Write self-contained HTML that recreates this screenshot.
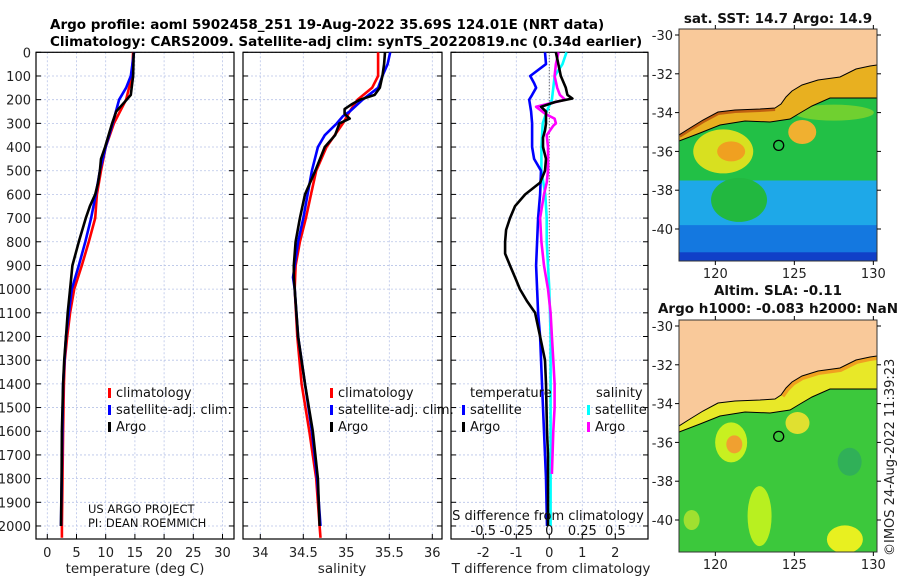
<!DOCTYPE html>
<html><head><meta charset="utf-8">
<style>
body{margin:0;background:#fff;width:900px;height:580px;overflow:hidden;font-family:"Liberation Sans","DejaVu Sans",sans-serif}
svg text{font-family:"DejaVu Sans","Liberation Sans",sans-serif}
</style></head>
<body>
<svg id="chart" width="900" height="580" viewBox="0 0 900 580" xmlns="http://www.w3.org/2000/svg">
<text x="50" y="29" font-size="13.5" font-weight="bold">Argo profile: aoml 5902458_251 19-Aug-2022 35.69S 124.01E (NRT data)</text>
<text x="50" y="46" font-size="13.5" font-weight="bold">Climatology: CARS2009. Satellite-adj clim: synTS_20220819.nc (0.34d earlier)</text>
<g id="panels"></g>
<g id="maps"></g>
<text transform="translate(894,556) rotate(-90)" font-size="13" fill="#222">©IMOS 24-Aug-2022 11:39:23</text>
</svg>
<script>
// ---------- data ----------
const depthTicks=[0,100,200,300,400,500,600,700,800,900,1000,1100,1200,1300,1400,1500,1600,1700,1800,1900,2000];
const tempTicks=[0,5,10,15,20,25,30];
const salTicks=[34,34.5,35,35.5,36];
const tdiffTicks=[-2,-1,0,1,2];
const sdiffTicks=[-0.5,-0.25,0,0.25,0.5];
const sdiffLabels=["-0.5","-0.25","0","0.25","0.5"];
const tempArgo=[[0,14.8],[100,14.7],[180,14.3],[200,13.6],[250,11.8],[300,11.1],[400,9.9],[450,9.2],[500,9.0],[550,8.7],[600,8.2],[650,7.3],[700,6.6],[800,5.4],[900,4.3],[1000,3.9],[1100,3.5],[1200,3.2],[1300,2.9],[1400,2.7],[1600,2.5],[1800,2.45],[2000,2.35]];
const tempClim=[[0,14.7],[100,14.5],[200,13.5],[300,11.4],[400,10.0],[500,9.2],[600,8.5],[700,8.2],[800,7.1],[900,5.9],[1000,4.6],[1100,3.9],[1200,3.4],[1300,3.0],[1400,2.85],[1600,2.7],[2000,2.5],[2050,2.5]];
const tempSat=[[0,14.85],[100,14.3],[150,13.5],[200,12.3],[300,11.2],[400,10.0],[500,9.0],[600,8.3],[700,7.5],[800,6.5],[900,5.4],[1000,4.2],[1200,3.2],[1400,2.7],[2000,2.35]];
const salArgo=[[0,35.45],[50,35.44],[100,35.42],[150,35.39],[180,35.33],[200,35.16],[220,35.06],[240,34.98],[260,34.98],[280,35.04],[300,34.92],[350,34.87],[400,34.75],[500,34.64],[600,34.52],[700,34.46],[800,34.41],[900,34.39],[950,34.39],[1000,34.40],[1200,34.44],[1400,34.52],[1600,34.61],[1800,34.67],[2000,34.69]];
const salClim=[[0,35.37],[100,35.37],[150,35.30],[200,35.13],[250,35.04],[300,34.96],[400,34.77],[500,34.65],[600,34.59],[700,34.53],[800,34.46],[900,34.41],[1000,34.40],[1200,34.43],[1400,34.48],[1600,34.57],[1800,34.65],[2000,34.69],[2050,34.70]];
const salSat=[[0,35.51],[50,35.48],[100,35.42],[150,35.37],[200,35.19],[250,35.04],[270,34.96],[300,34.89],[350,34.75],[400,34.67],[500,34.60],[600,34.55],[700,34.50],[800,34.44],[900,34.40],[950,34.38],[1000,34.40],[1200,34.44],[1400,34.52],[1600,34.60],[1800,34.66],[2000,34.70]];
const tdiffArgo=[[0,0.2],[100,0.35],[150,0.5],[180,0.55],[195,0.7],[210,0.18],[230,-0.25],[250,-0.1],[300,-0.1],[330,-0.13],[360,-0.19],[400,-0.19],[450,-0.1],[500,-0.13],[550,-0.28],[600,-0.73],[650,-1.04],[700,-1.19],[750,-1.31],[800,-1.34],[850,-1.34],[900,-1.19],[950,-1.04],[1000,-0.89],[1050,-0.68],[1100,-0.43],[1200,-0.28],[1300,-0.13],[1400,-0.1],[1600,-0.07],[1700,-0.04],[2000,-0.04]];
const tdiffSat=[[0,-0.13],[50,-0.1],[100,-0.58],[130,-0.46],[150,-0.4],[180,-0.52],[200,-0.61],[250,-0.55],[300,-0.52],[400,-0.52],[450,-0.46],[500,-0.25],[600,-0.28],[700,-0.34],[800,-0.37],[900,-0.4],[1000,-0.37],[1100,-0.34],[1200,-0.28],[1400,-0.22],[1600,-0.16],[1800,-0.1],[2000,-0.07]];
const sdiffArgo=[[0,0.07],[50,0.05],[100,0.04],[150,0.06],[180,0.08],[200,0.12],[230,-0.1],[260,-0.03],[280,0.04],[300,0.05],[310,0.03],[350,-0.02],[400,-0.01],[500,-0.01],[550,-0.02],[600,-0.04],[700,-0.07],[800,-0.06],[900,-0.04],[1000,-0.01],[1100,0.01],[1200,0.02],[1300,0.03],[1400,0.04],[1500,0.04],[1600,0.03],[1780,0.02]];
const sdiffSat=[[0,0.13],[50,0.1],[100,0.04],[150,0.03],[200,0.02],[250,-0.02],[300,-0.05],[400,-0.06],[500,-0.06],[600,-0.03],[700,-0.02],[800,-0.02],[900,-0.01],[1000,0],[1200,0.01],[1500,0.01],[2000,0.01]];

// ---------- helpers ----------
const NS="http://www.w3.org/2000/svg";
function mk(parent,tag,attrs,text){const e=document.createElementNS(NS,tag);for(const k in attrs)e.setAttribute(k,attrs[k]);if(text!==undefined)e.textContent=text;parent.appendChild(e);return e;}
const yTop=52.3,yBot=539,dmax=2055;
const yD=d=>yTop+d*(yBot-yTop)/dmax;
const P=document.getElementById('panels');

function panel(name,x0,x1,xs,ticks,labels,showY){
  const g=mk(P,'g',{});
  
  
  ticks.forEach(t=>{const gl=mk(g,'line',{x1:xs(t),x2:xs(t),y1:yTop,y2:yBot,stroke:'#b8c4e8','stroke-width':0.8,'stroke-dasharray':'2,2'});
    
    });
  depthTicks.forEach(d=>{const gl=mk(g,'line',{x1:x0,x2:x1,y1:yD(d),y2:yD(d),stroke:'#b8c4e8','stroke-width':0.8,'stroke-dasharray':'2,2'});
    
    
    mk(g,'line',{x1:x0,x2:x0+5,y1:yD(d),y2:yD(d),stroke:'#000'});mk(g,'line',{x1:x1-5,x2:x1,y1:yD(d),y2:yD(d),stroke:'#000'});
    if(showY){const t=mk(g,'text',{x:31,y:yD(d)+5,'font-size':13,'text-anchor':'end',fill:'#222'},String(d));
      
      }
  });
  ticks.forEach((t,i)=>{mk(g,'line',{x1:xs(t),x2:xs(t),y1:yBot,y2:yBot-5,stroke:'#000'});
    if(labels){const tl=mk(g,'text',{x:xs(t),y:557,'font-size':13,'text-anchor':'middle',fill:'#222'},labels[i]);
      
      }});
  const fr=mk(g,'rect',{x:x0,y:yTop,width:x1-x0,height:yBot-yTop,fill:'none',stroke:'#000','stroke-width':1.2});
  
  
  return g;
}
function line(g,data,xs,color,w,name){
  const p=mk(g,'polyline',{points:data.map(d=>xs(d[1]).toFixed(1)+','+yD(d[0]).toFixed(1)).join(' '),fill:'none',stroke:color,'stroke-width':w,'stroke-linejoin':'round'});
  
  
}
function legend(g,x,y,items){
  items.forEach((it,i)=>{const yy=y+i*17;
    mk(g,'rect',{x:x,y:yy-9,width:3,height:10,fill:it[1]});
    const t=mk(g,'text',{x:x+8,y:yy,'font-size':13,fill:'#111'},it[0]);
    
    });
}
const xT=v=>47.3+v*5.84;
let g1=panel('temperature-panel',36,234,xT,tempTicks,tempTicks.map(String),true);
line(g1,tempClim,xT,'#f00',2.6,'temp-climatology-line');
line(g1,tempSat,xT,'#00f',2.6,'temp-satellite-line');
line(g1,tempArgo,xT,'#000',2.6,'temp-argo-line');
legend(g1,108,397,[['climatology','#f00'],['satellite-adj. clim.','#00f'],['Argo','#000']]);
mk(g1,'text',{x:88,y:513,'font-size':11.5,fill:'#111',},'US ARGO PROJECT');
mk(g1,'text',{x:88,y:527,'font-size':11.5,fill:'#111',},'PI: DEAN ROEMMICH');
mk(g1,'text',{x:135,y:573,'font-size':13.5,'text-anchor':'middle',fill:'#222',},'temperature (deg C)');
const xS=v=>260.3+(v-34)*86;
let g2=panel('salinity-panel',243,442,xS,salTicks,salTicks.map(String),false);
line(g2,salClim,xS,'#f00',2.6,'sal-climatology-line');
line(g2,salSat,xS,'#00f',2.6,'sal-satellite-line');
line(g2,salArgo,xS,'#000',2.6,'sal-argo-line');
legend(g2,330,397,[['climatology','#f00'],['satellite-adj. clim.','#00f'],['Argo','#000']]);
mk(g2,'text',{x:342,y:573,'font-size':13.5,'text-anchor':'middle',fill:'#222',},'salinity');
const xTd=v=>549.3+v*33, xSd=v=>549.3+v*132;
let g3=panel('difference-panel',451,648,xTd,tdiffTicks,tdiffTicks.map(String),false);
mk(g3,'line',{x1:549.3,x2:549.3,y1:yTop,y2:yD(880),stroke:'#444','stroke-width':1,'stroke-dasharray':'1,2'});
line(g3,sdiffSat,xSd,'#0ff',2.6,'sdiff-satellite-line');
line(g3,tdiffSat,xTd,'#00f',2.6,'tdiff-satellite-line');
line(g3,sdiffArgo,xSd,'#f0f',2.6,'sdiff-argo-line');
line(g3,tdiffArgo,xTd,'#000',2.6,'tdiff-argo-line');
mk(g3,'text',{x:470,y:397,'font-size':13,fill:'#111',},'temperature');
mk(g3,'text',{x:596,y:397,'font-size':13,fill:'#111',},'salinity');
legend(g3,462,414,[['satellite','#00f'],['Argo','#000']]);
legend(g3,587,414,[['satellite','#0ff'],['Argo','#f0f']]);
mk(g3,'text',{x:548,y:520,'font-size':13,'text-anchor':'middle',fill:'#111',},'S difference from climatology');
sdiffTicks.forEach((t,i)=>{const e=mk(g3,'text',{x:xSd(t),y:535,'font-size':13,'text-anchor':'middle',fill:'#111'},sdiffLabels[i]);
  
  });
mk(g3,'text',{x:551,y:573,'font-size':13.5,'text-anchor':'middle',fill:'#222',},'T difference from climatology');

// ---------- maps ----------
const M=document.getElementById('maps');
function map(name,oy,kind){
  const g=mk(M,'g',{});
  
  
  const L=679,R=877,T=29+oy,B=261+oy;
  const lx=lon=>679+(lon-117.7)*15.8, ly=lat=>35+oy+(-30-lat)*19.4;
  const cid='clip'+oy;
  const cp=mk(g,'clipPath',{id:cid});mk(cp,'rect',{x:L,y:T,width:R-L,height:B-T});
  const c=mk(g,'g',{'clip-path':'url(#'+cid+')'});
  const coast=[[679,135],[690,128],[703,120],[718,112],[735,110],[760,109],[775,108],[781,104],[786,97],[792,91],[802,85],[818,80],[840,77],[856,69],[870,66],[877,65]];
  const shelf=[[679,141],[700,133],[720,125],[745,121],[770,122],[790,119],[800,113],[812,106],[830,98],[877,98]];
  const sh=p=>p.map(q=>q[0]+','+(q[1]+oy)).join(' ');
  if(kind==='sst'){
    mk(c,'rect',{x:L,y:T,width:R-L,height:B-T,fill:'#22c046'});
    mk(c,'rect',{x:L,y:ly(-37.5),width:R-L,height:B-ly(-37.5),fill:'#1ea8e8'});
    mk(c,'rect',{x:L,y:ly(-39.8),width:R-L,height:B-ly(-39.8),fill:'#1478e0'});
    mk(c,'rect',{x:L,y:ly(-41.2),width:R-L,height:B-ly(-41.2),fill:'#1040c8'});
    mk(c,'ellipse',{cx:lx(121.5),cy:ly(-38.5),rx:28,ry:22,fill:'#22b840'});
    mk(c,'ellipse',{cx:lx(120.5),cy:ly(-36),rx:30,ry:22,fill:'#d8e020'});
    mk(c,'ellipse',{cx:lx(121),cy:ly(-36),rx:14,ry:10,fill:'#f0a020'});
    mk(c,'ellipse',{cx:lx(125.5),cy:ly(-35),rx:14,ry:12,fill:'#f0b030'});
    mk(c,'ellipse',{cx:lx(127.5),cy:ly(-34),rx:40,ry:8,fill:'#70d030'});
    mk(c,'polygon',{points:sh(coast.concat(shelf.slice().reverse())),fill:'#e8b020'});
    mk(c,'polyline',{points:sh(coast.slice(0,7)),fill:'none',stroke:'#c06010','stroke-width':6});
  } else {
    mk(c,'rect',{x:L,y:T,width:R-L,height:B-T,fill:'#3cc83c'});
    mk(c,'ellipse',{cx:lx(121),cy:ly(-36),rx:16,ry:20,fill:'#c8f020'});
    mk(c,'ellipse',{cx:lx(121.2),cy:ly(-36.1),rx:8,ry:9,fill:'#f0a030'});
    mk(c,'ellipse',{cx:lx(125.2),cy:ly(-35),rx:12,ry:11,fill:'#e0e030'});
    mk(c,'ellipse',{cx:lx(122.8),cy:ly(-39.8),rx:12,ry:30,fill:'#b8f020'});
    mk(c,'ellipse',{cx:lx(128.2),cy:ly(-41),rx:18,ry:14,fill:'#e8f020'});
    mk(c,'ellipse',{cx:lx(118.5),cy:ly(-40),rx:8,ry:10,fill:'#a0e030'});
    mk(c,'ellipse',{cx:lx(128.5),cy:ly(-37),rx:12,ry:14,fill:'#30b058'});
    mk(c,'polygon',{points:sh(coast.concat(shelf.slice().reverse())),fill:'#e8e828'});
    mk(c,'polyline',{points:sh([[781,104],[786,97],[792,91],[802,85],[818,80],[840,77],[856,69],[870,66],[877,65]]),fill:'none',stroke:'#f0a020','stroke-width':8});
  }
  mk(c,'polygon',{points:sh([[679,29],[877,29]].concat(coast.slice().reverse())),fill:'#f9c99a'});
  mk(c,'polyline',{points:sh(coast),fill:'none',stroke:'#000','stroke-width':1});
  mk(c,'polyline',{points:sh(shelf),fill:'none',stroke:'#000','stroke-width':1});
  const fr=mk(g,'rect',{x:L,y:T,width:R-L,height:B-T,fill:'none',stroke:'#333','stroke-width':1});
  
  
  const ac=mk(g,'circle',{cx:lx(124.01),cy:ly(-35.69),r:5,fill:'none',stroke:'#000','stroke-width':1.3});
  
  
  [-30,-32,-34,-36,-38,-40].forEach(la=>{mk(g,'line',{x1:L-4,x2:L,y1:ly(la),y2:ly(la),stroke:'#000'});mk(g,'line',{x1:R,x2:R+4,y1:ly(la),y2:ly(la),stroke:'#000'});
    const t=mk(g,'text',{x:L-6,y:ly(la)+5,'font-size':13,'text-anchor':'end',fill:'#222'},String(la));
    
    });
  [120,125,130].forEach(lo=>{mk(g,'line',{x1:lx(lo),x2:lx(lo),y1:B,y2:B+4,stroke:'#000'});mk(g,'line',{x1:lx(lo),x2:lx(lo),y1:T-4,y2:T,stroke:'#000'});
    const t=mk(g,'text',{x:lx(lo),y:B+17,'font-size':13,'text-anchor':'middle',fill:'#222'},String(lo));
    
    });
}
map('sst-map',0,'sst');
map('sla-map',291,'sla');
mk(M,'text',{x:778,y:23,'font-size':13.5,'font-weight':'bold','text-anchor':'middle',fill:'#111',},'sat. SST: 14.7 Argo: 14.9');
mk(M,'text',{x:778,y:295,'font-size':13.5,'font-weight':'bold','text-anchor':'middle',fill:'#111',},'Altim. SLA: -0.11');
mk(M,'text',{x:778,y:313,'font-size':13.5,'font-weight':'bold','text-anchor':'middle',fill:'#111',},'Argo h1000: -0.083 h2000: NaN');
</script>
</body></html>
